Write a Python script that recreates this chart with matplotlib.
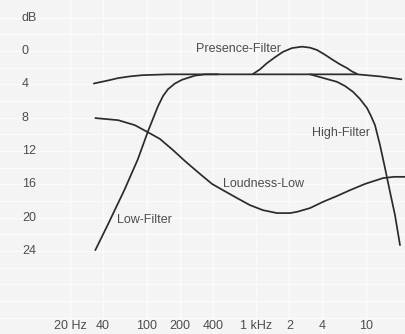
import numpy as np
import matplotlib
matplotlib.use('Agg')
import matplotlib.pyplot as plt

plt.rcParams['font.family'] = ['Liberation Sans', 'DejaVu Sans']

# frequency (Hz) / attenuation (dB, drawn downward)
base_f = [33, 44, 55, 70, 91, 120, 156, 300, 700, 2000, 5000, 8300, 13400, 21000]
base_db = [3.9, 3.55, 3.25, 3.05, 2.9, 2.85, 2.8, 2.8, 2.8, 2.8, 2.8, 2.8, 3.05, 3.4]

presence_f = [932, 1079, 1250, 1478, 1749, 2112, 2606, 3083, 3570, 4222, 4992, 5784, 6700, 7440, 8266]
presence_db = [2.75, 2.2, 1.45, 0.75, 0.1, -0.35, -0.52, -0.4, -0.12, 0.45, 1.08, 1.6, 2.05, 2.45, 2.75]

low_f = [34, 44, 63, 83, 103, 127, 141, 156, 181, 210, 276, 340, 447]
low_db = [23.9, 20.9, 16.6, 13.0, 9.6, 6.6, 5.4, 4.6, 3.9, 3.45, 2.95, 2.8, 2.8]

high_f = [3083, 3964, 5432, 6424, 7600, 8800, 10200, 11090, 12060, 13400, 14880, 16520, 18350, 20380]
high_db = [2.8, 3.2, 3.7, 4.2, 4.9, 5.76, 6.85, 7.8, 8.9, 11.3, 14.05, 16.9, 19.7, 23.3]

loud_f = [34, 55, 78, 101, 132, 174, 223, 306, 394, 496, 666, 875, 1149, 1542, 2026,
          2346, 3083, 4050, 5432, 7136, 9780, 14270, 18000, 22640]
loud_db = [8.05, 8.3, 8.9, 9.7, 10.55, 11.9, 13.2, 14.75, 15.95, 16.7, 17.65, 18.5, 19.1,
           19.45, 19.45, 19.3, 18.85, 18.1, 17.4, 16.7, 15.95, 15.25, 15.1, 15.1]

y_ticks = [0, 4, 8, 12, 16, 20, 24]
x_ticks = [20, 40, 100, 200, 400, 1000, 2000, 4000, 10000]
x_labels = ['20 Hz', '40', '100', '200', '400', '1 kHz', '2', '4', '10']

bg = '#f4f4f4'
ink = '#2b2b2b'
txt = '#4d4d4d'

fig = plt.figure(figsize=(4.06, 3.34), dpi=100, facecolor=bg)
ax = fig.add_axes([0, 0, 1, 1], facecolor=bg)
ax.set_xscale('log')
ax.set_xlim(4.6, 23116)
ax.set_ylim(33.96, -6.12)

# very faint paper grid
ax.set_xticks(x_ticks)
ax.set_xticks([], minor=True)
ax.set_yticks(np.arange(-4, 34, 2))
ax.grid(True, color='#fbfbfb', linewidth=1.0)
ax.set_axisbelow(True)
ax.tick_params(length=0, labelbottom=False, labelleft=False)
for s in ax.spines.values():
    s.set_visible(False)

for f, d in [(base_f, base_db), (presence_f, presence_db), (low_f, low_db),
             (high_f, high_db), (loud_f, loud_db)]:
    ax.plot(f, d, color=ink, linewidth=1.25, solid_capstyle='round', solid_joinstyle='round')

ax.text(680, -0.25, 'Presence-Filter', fontsize=9, color=txt, ha='center', va='center')
ax.text(5908, 9.85, 'High-Filter', fontsize=9, color=txt, ha='center', va='center')
ax.text(1149, 15.95, 'Loudness-Low', fontsize=9, color=txt, ha='center', va='center')
ax.text(94.5, 20.3, 'Low-Filter', fontsize=9, color=txt, ha='center', va='center')

yt = ax.get_yaxis_transform()
ax.text(0.054, -4, 'dB', transform=yt, fontsize=9, color=txt, ha='left', va='center')
for v in y_ticks:
    ax.text(0.054, v, str(v), transform=yt, fontsize=9, color=txt, ha='left', va='center')

xt = ax.get_xaxis_transform()
for f, lab in zip(x_ticks, x_labels):
    ax.text(f, 0.025, lab, transform=xt, fontsize=9, color=txt, ha='center', va='center')

fig.savefig('out.png', dpi=100, facecolor=bg)
